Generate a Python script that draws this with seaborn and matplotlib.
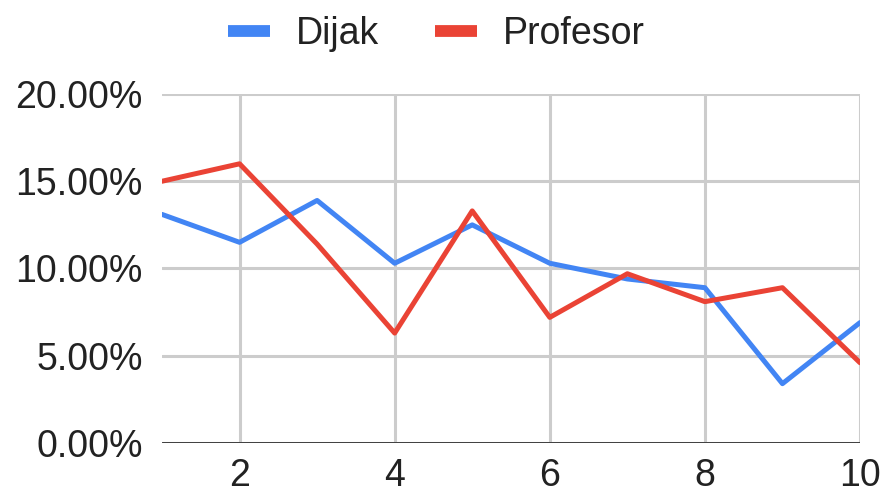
import matplotlib
matplotlib.use("Agg")
import matplotlib.pyplot as plt
import seaborn as sns
import pandas as pd
from matplotlib.ticker import PercentFormatter

# data
x = [1, 2, 3, 4, 5, 6, 7, 8, 9, 10]
dijak = [13.1, 11.5, 13.9, 10.3, 12.5, 10.3, 9.4, 8.9, 3.4, 6.9]
profesor = [15.0, 16.0, 11.4, 6.3, 13.3, 7.2, 9.7, 8.1, 8.9, 4.6]

df = pd.DataFrame({"x": x * 2,
                   "val": dijak + profesor,
                   "serie": ["Dijak"] * 10 + ["Profesor"] * 10})

sns.set_style("white")
plt.rcParams['font.family'] = ['Liberation Sans', 'DejaVu Sans']

fig = plt.figure(figsize=(8.82, 4.98), dpi=100)
ax = fig.add_axes([162 / 882, 1 - 443 / 498, (860 - 162) / 882, (443 - 94) / 498])

sns.lineplot(data=df, x="x", y="val", hue="serie",
             palette={"Dijak": "#4285F4", "Profesor": "#EA4335"},
             linewidth=3.6, ax=ax, legend=False, zorder=3)

ax.set_xlim(1, 10)
ax.set_ylim(0, 20)
ax.set_xticks([2, 4, 6, 8, 10])
ax.set_yticks([0, 5, 10, 15, 20])
ax.yaxis.set_major_formatter(PercentFormatter(decimals=2))
ax.grid(True, color="#cccccc", linewidth=2.2)
ax.set_axisbelow(True)
for s in ax.spines.values():
    s.set_visible(False)
ax.axhline(0, color="#333333", linewidth=2, zorder=2)
ax.tick_params(axis="both", length=0, labelsize=27, colors="#222222")
ax.tick_params(axis="y", pad=14)
ax.tick_params(axis="x", pad=11)
ax.set_xlabel("")
ax.set_ylabel("")

handles = [plt.Line2D([], [], color="#4285F4", linewidth=8.5, solid_capstyle="butt"),
           plt.Line2D([], [], color="#EA4335", linewidth=8.5, solid_capstyle="butt")]
fig.legend(handles, ["Dijak", "Profesor"], loc="upper center",
           bbox_to_anchor=(0.495, 1.035), ncol=2, frameon=False,
           fontsize=27, handlelength=1.1, columnspacing=1.5,
           handletextpad=0.7, labelcolor="#222222")

fig.savefig("out.png", dpi=100)
